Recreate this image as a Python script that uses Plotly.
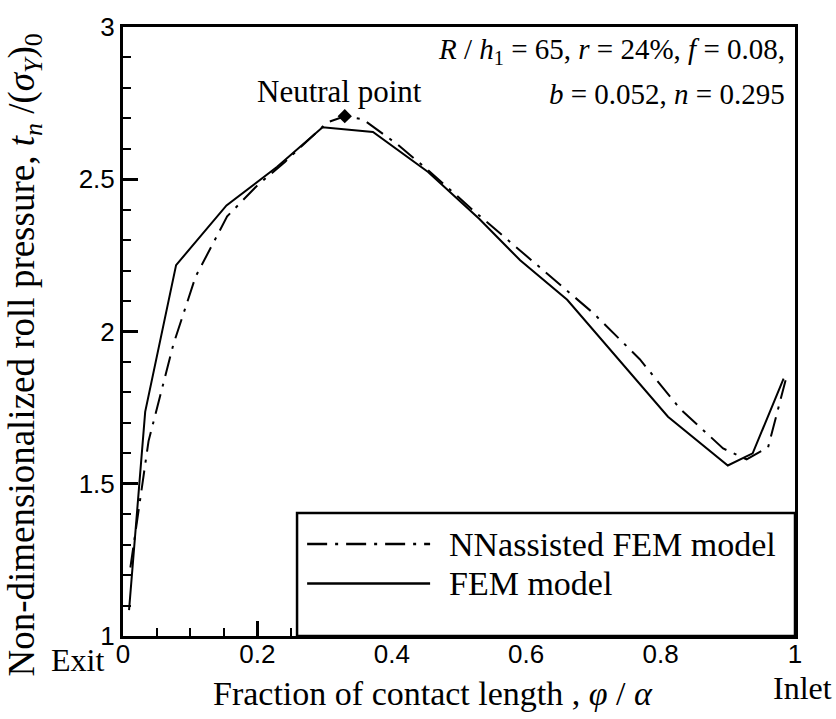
import plotly.graph_objects as go

# ---------------- data ----------------
fem_x = [0.009, 0.033, 0.079, 0.154, 0.229, 0.297, 0.372, 0.454, 0.53, 0.591, 0.661, 0.725, 0.811, 0.900, 0.937, 0.983]
fem_y = [1.085, 1.736, 2.218, 2.414, 2.54, 2.671, 2.655, 2.524, 2.37, 2.234, 2.104, 1.94, 1.72, 1.56, 1.60, 1.845]

nn_x = [0.011, 0.038, 0.075, 0.108, 0.155, 0.2, 0.241, 0.304, 0.33, 0.357, 0.408, 0.452, 0.52, 0.591, 0.70, 0.769, 0.829, 0.893, 0.928, 0.96, 0.986]
nn_y = [1.225, 1.64, 1.958, 2.18, 2.378, 2.48, 2.557, 2.687, 2.707, 2.697, 2.615, 2.534, 2.40, 2.267, 2.06, 1.909, 1.746, 1.616, 1.58, 1.62, 1.84]

neutral_x = [0.33]
neutral_y = [2.707]

x_ticks = [0, 0.2, 0.4, 0.6, 0.8, 1]
x_tick_labels = ["0", "0.2", "0.4", "0.6", "0.8", "1"]
y_ticks = [1, 1.5, 2, 2.5, 3]
y_tick_labels = ["1", "1.5", "2", "2.5", "3"]

SERIF = "Liberation Serif"
SANS = "Liberation Sans"
NN_DASH = "20px,8px,3px,8px"

fig = go.Figure()
fig.add_trace(go.Scatter(x=nn_x, y=nn_y, mode="lines", name="NN assisted FEM model",
                         line=dict(color="black", width=2, dash=NN_DASH), showlegend=False))
fig.add_trace(go.Scatter(x=fem_x, y=fem_y, mode="lines", name="FEM model",
                         line=dict(color="black", width=2), showlegend=False))
fig.add_trace(go.Scatter(x=neutral_x, y=neutral_y, mode="markers", name="Neutral point",
                         marker=dict(symbol="diamond", size=11, color="black"), showlegend=False))

axis_common = dict(showgrid=False, zeroline=False, showline=True, linecolor="black", linewidth=3,
                   mirror=True, ticks="inside", tickcolor="black", tickwidth=2.5, ticklen=15,
                   tickfont=dict(family=SANS, size=26, color="black"))

fig.update_xaxes(range=[0, 1], tickvals=x_ticks, ticktext=x_tick_labels, ticklabelstandoff=-7,
                 minor=dict(dtick=0.05, ticks="inside", ticklen=8, tickwidth=1.5, tickcolor="black"),
                 **axis_common)
fig.update_yaxes(range=[1, 3], tickvals=y_ticks, ticktext=y_tick_labels,
                 minor=dict(dtick=0.1, ticks="inside", ticklen=8, tickwidth=1.5, tickcolor="black"),
                 **axis_common)

ann = []
# axis titles
ann.append(dict(xref="paper", yref="paper", x=0.461, y=-0.095, showarrow=False,
                text="Fraction of contact length , <i>φ</i> / <i>α</i>",
                font=dict(family=SERIF, size=34, color="black"), xanchor="center", yanchor="middle"))
ann.append(dict(xref="paper", yref="paper", x=-0.146, y=0.462, showarrow=False, textangle=-90,
                text="Non-dimensionalized roll pressure, <i>t<sub>n</sub></i> /(<i>σ<sub>Y</sub></i>)<sub>0</sub>",
                font=dict(family=SERIF, size=37, color="black"), xanchor="center", yanchor="middle"))
ann.append(dict(xref="paper", yref="paper", x=-0.067, y=-0.040, showarrow=False, text="Exit",
                font=dict(family=SERIF, size=32, color="black"), xanchor="center", yanchor="middle"))
ann.append(dict(xref="paper", yref="paper", x=1.011, y=-0.085, showarrow=False, text="Inlet",
                font=dict(family=SERIF, size=32, color="black"), xanchor="center", yanchor="middle"))
# parameter box text
ann.append(dict(xref="paper", yref="paper", x=0.988, y=0.960, showarrow=False, xanchor="right", yanchor="middle",
                text="<i>R</i> / <i>h</i><sub>1</sub> = 65, <i>r</i> = 24%, <i>f</i> = 0.08,",
                font=dict(family=SERIF, size=29, color="black")))
ann.append(dict(xref="paper", yref="paper", x=0.988, y=0.890, showarrow=False, xanchor="right", yanchor="middle",
                text="<i>b</i> = 0.052, <i>n</i> = 0.295",
                font=dict(family=SERIF, size=29, color="black")))
# neutral point label
ann.append(dict(x=neutral_x[0], y=neutral_y[0], showarrow=False, xshift=-5, yshift=25,
                text="Neutral point", xanchor="center", yanchor="middle",
                font=dict(family=SERIF, size=31, color="black")))
# legend texts
ann.append(dict(xref="paper", yref="paper", x=0.482, y=0.151, showarrow=False, xanchor="left", yanchor="middle",
                text="NNassisted FEM model", font=dict(family=SERIF, size=34, color="black")))
ann.append(dict(xref="paper", yref="paper", x=0.482, y=0.0863, showarrow=False, xanchor="left", yanchor="middle",
                text="FEM model", font=dict(family=SERIF, size=34, color="black")))

shapes = [
    dict(type="rect", xref="paper", yref="paper", x0=0.259, x1=1.0, y0=0.0, y1=0.202,
         line=dict(color="black", width=2.5), fillcolor="white", layer="above"),
    dict(type="line", xref="paper", yref="paper", x0=0.274, x1=0.457, y0=0.151, y1=0.151,
         line=dict(color="black", width=2.5, dash=NN_DASH)),
    dict(type="line", xref="paper", yref="paper", x0=0.274, x1=0.457, y0=0.0863, y1=0.0863,
         line=dict(color="black", width=2.5)),
]

fig.update_layout(width=836, height=719, margin=dict(l=123, r=41, t=22, b=83),
                  paper_bgcolor="white", plot_bgcolor="white",
                  annotations=ann, shapes=shapes, showlegend=False)

fig.write_html("out.html")
